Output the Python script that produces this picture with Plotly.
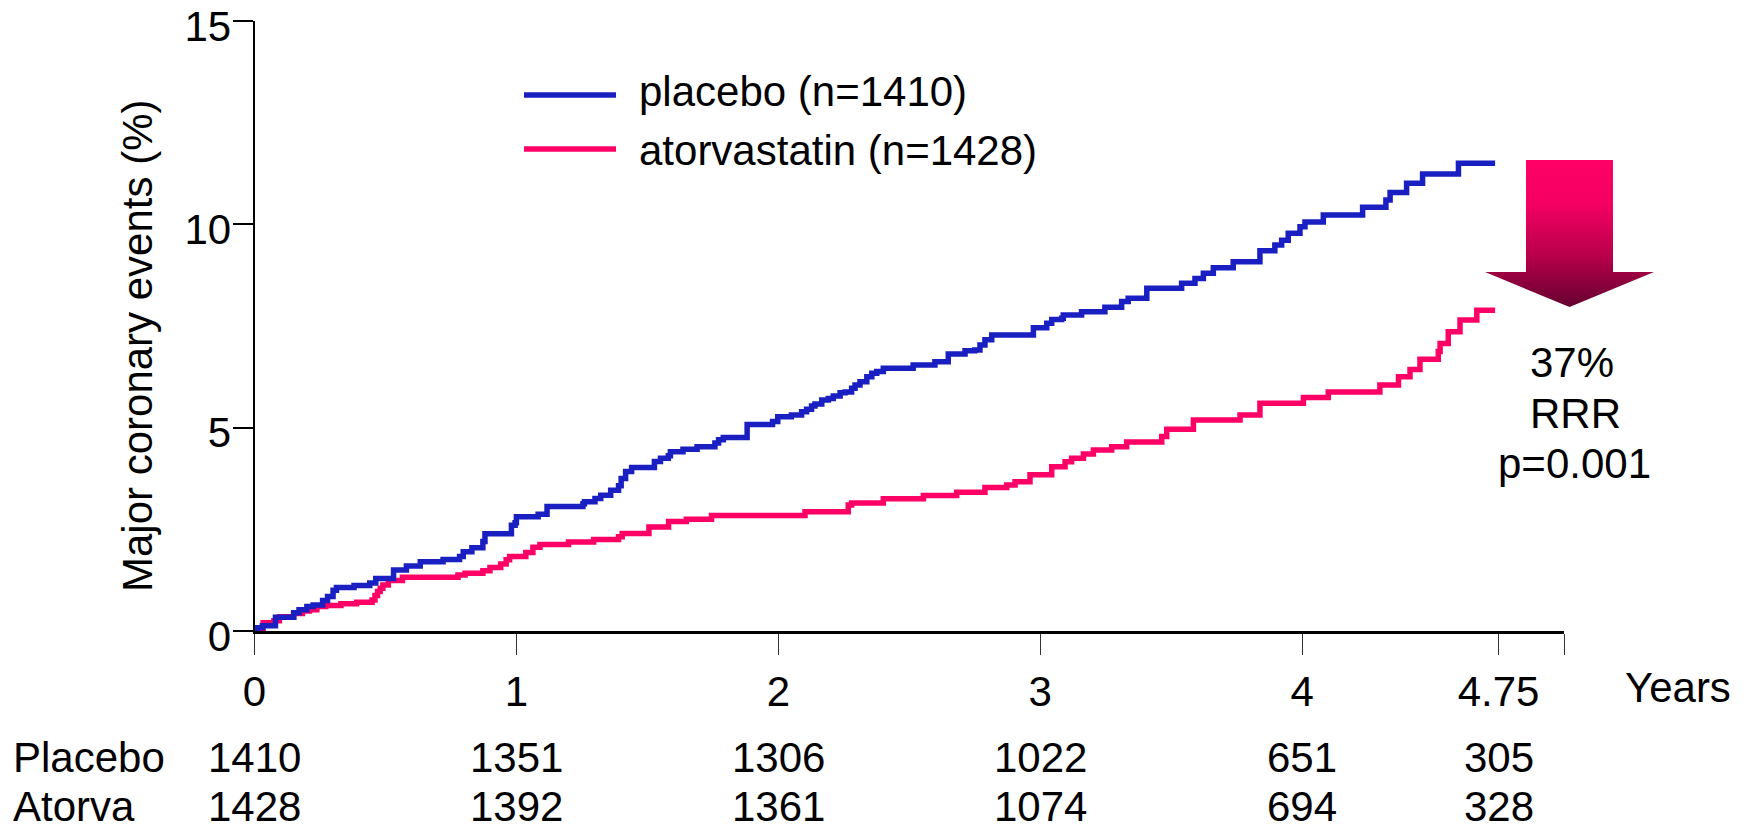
import plotly.graph_objects as go

# ---------------- data ----------------
placebo_t = [0, 0.01, 0.03, 0.08, 0.15, 0.17, 0.20, 0.224, 0.26, 0.279, 0.30, 0.313, 0.38, 0.44, 0.463,
             0.531, 0.58, 0.633, 0.72, 0.783, 0.797, 0.83, 0.872, 0.88, 0.981, 0.995, 1.0, 1.083, 1.117,
             1.254, 1.26, 1.30, 1.322, 1.36, 1.39, 1.40, 1.417, 1.44, 1.527, 1.55, 1.58, 1.588, 1.636,
             1.69, 1.758, 1.772, 1.79, 1.881, 1.978, 1.998, 2.05, 2.089, 2.108, 2.127, 2.14, 2.166, 2.191,
             2.21, 2.236, 2.255, 2.28, 2.293, 2.312, 2.338, 2.357, 2.376, 2.401, 2.515, 2.598, 2.649,
             2.713, 2.75, 2.77, 2.789, 2.815, 2.974, 3.025, 3.044, 3.082, 3.088, 3.158, 3.247, 3.311,
             3.336, 3.407, 3.540, 3.591, 3.623, 3.661, 3.737, 3.839, 3.896, 3.922, 3.947, 3.992, 4.011,
             4.081, 4.231, 4.32, 4.336, 4.399, 4.46, 4.597, 4.737]
placebo_pct = [0, 0.08, 0.13, 0.34, 0.45, 0.52, 0.60, 0.64, 0.75, 0.85, 1.00, 1.07, 1.12, 1.18, 1.29,
               1.50, 1.60, 1.70, 1.76, 1.83, 1.95, 2.05, 2.20, 2.39, 2.60, 2.66, 2.81, 2.87, 3.06,
               3.13, 3.18, 3.26, 3.34, 3.46, 3.57, 3.75, 3.92, 4.02, 4.17, 4.25, 4.31, 4.41, 4.47,
               4.53, 4.62, 4.70, 4.76, 5.08, 5.15, 5.27, 5.31, 5.39, 5.45, 5.53, 5.58, 5.68, 5.72,
               5.78, 5.86, 5.88, 5.97, 6.05, 6.13, 6.25, 6.34, 6.38, 6.46, 6.54, 6.62, 6.81,
               6.89, 6.91, 7.03, 7.16, 7.28, 7.46, 7.57, 7.66, 7.69, 7.77, 7.85, 7.96, 8.10,
               8.18, 8.43, 8.55, 8.67, 8.80, 8.93, 9.08, 9.35, 9.49, 9.61, 9.78, 9.94, 10.06,
               10.23, 10.42, 10.60, 10.78, 11.01, 11.24, 11.50, 11.50]

atorva_t = [0, 0.013, 0.033, 0.074, 0.095, 0.149, 0.183, 0.21, 0.238, 0.272, 0.33, 0.39, 0.449, 0.46,
            0.47, 0.48, 0.49, 0.511, 0.565, 0.777, 0.804, 0.872, 0.899, 0.94, 0.961, 0.974, 1.036,
            1.063, 1.09, 1.199, 1.295, 1.39, 1.404, 1.506, 1.581, 1.649, 1.745, 2.102, 2.267, 2.28,
            2.401, 2.554, 2.681, 2.789, 2.872, 2.904, 2.961, 3.044, 3.095, 3.12, 3.165, 3.203, 3.273,
            3.33, 3.464, 3.483, 3.585, 3.763, 3.839, 4.005, 4.100, 4.297, 4.368, 4.412, 4.45, 4.52,
            4.527, 4.558, 4.603, 4.667, 4.737]
atorva_pct = [0, 0.07, 0.20, 0.25, 0.35, 0.43, 0.49, 0.52, 0.60, 0.63, 0.67, 0.71, 0.76, 0.87,
              0.97, 1.05, 1.13, 1.24, 1.32, 1.38, 1.42, 1.48, 1.56, 1.65, 1.75, 1.83, 1.93,
              2.06, 2.13, 2.19, 2.25, 2.32, 2.40, 2.56, 2.69, 2.75, 2.84, 2.93, 3.10, 3.15,
              3.25, 3.33, 3.41, 3.53, 3.59, 3.67, 3.84, 4.04, 4.16, 4.25, 4.35, 4.45, 4.53,
              4.65, 4.78, 4.96, 5.19, 5.31, 5.60, 5.74, 5.88, 6.05, 6.25, 6.43, 6.68, 6.87,
              7.07, 7.36, 7.65, 7.89, 7.89]

series_names = ["placebo (n=1410)", "atorvastatin (n=1428)"]
series_colors = ["#1a1fc2", "#ff0066"]

x_tickvals = [0, 1, 2, 3, 4, 4.75, 5]
x_ticktext = ["0", "1", "2", "3", "4", "4.75", ""]
y_tickvals = [0, 5, 10, 15]

risk_times = [0, 1, 2, 3, 4, 4.75]
risk_labels = ["Placebo", "Atorva"]
risk_placebo = [1410, 1351, 1306, 1022, 651, 305]
risk_atorva = [1428, 1392, 1361, 1074, 694, 328]

rrr_text = ["37%", "RRR", "p=0.001"]

# ---------------- layout constants ----------------
W, H = 1753, 831
PL, PR, PT, PB = 254.5, 1564, 21, 631   # plot area in px
FONT = "Liberation Sans, Arial, Helvetica, sans-serif"
FS = 42


def px_x(p):
    return p / W


def px_y(p):
    return 1 - p / H


fig = go.Figure()

# curves (atorvastatin under placebo)
fig.add_trace(go.Scatter(x=atorva_t, y=atorva_pct, mode="lines",
                         line=dict(color=series_colors[1], width=5.5, shape="hv"),
                         name=series_names[1], showlegend=False, hoverinfo="skip"))
fig.add_trace(go.Scatter(x=placebo_t, y=placebo_pct, mode="lines",
                         line=dict(color=series_colors[0], width=5.5, shape="hv"),
                         name=series_names[0], showlegend=False, hoverinfo="skip"))

# gradient arrow drawn on a full-figure pixel axis pair
ax_l, ax_r, ax_top, ax_sb = 1526, 1613, 160, 272
hd_l, hd_r, tip_x, tip_y = 1485, 1654, 1569.5, 307
fig.add_trace(go.Scatter(
    x=[ax_l, ax_r, ax_r, hd_r, tip_x, hd_l, ax_l, ax_l],
    y=[ax_top, ax_top, ax_sb, ax_sb, tip_y, ax_sb, ax_sb, ax_top],
    xaxis="x2", yaxis="y2", mode="lines", line=dict(width=0), fill="toself",
    fillgradient=dict(type="vertical", start=ax_top, stop=tip_y,
                      colorscale=[[0, "#ff0066"], [0.3, "#f40063"], [0.65, "#b8004a"], [1, "#650030"]]),
    showlegend=False, hoverinfo="skip"))

fig.update_layout(
    width=W, height=H, autosize=False,
    margin=dict(l=0, r=0, t=0, b=0),
    paper_bgcolor="white", plot_bgcolor="rgba(0,0,0,0)",
    font=dict(family=FONT, size=FS, color="black"),
    showlegend=False,
    xaxis=dict(domain=[PL / W, PR / W], range=[0, 5.0], tickvals=x_tickvals, ticktext=x_ticktext,
               ticks="outside", ticklen=21, tickwidth=1.2, tickcolor="#333", showline=True, linewidth=3,
               linecolor="black", showgrid=False, zeroline=False, automargin=False,
               tickfont=dict(size=FS, family=FONT), ticklabelstandoff=1, ticklabeloverflow="allow"),
    yaxis=dict(domain=[1 - PB / H, 1 - PT / H], range=[0, 15], tickvals=y_tickvals,
               ticks="outside", ticklen=20, tickwidth=2, tickcolor="black", showline=True, linewidth=2,
               linecolor="black", showgrid=False, zeroline=False, automargin=False,
               tickfont=dict(size=FS, family=FONT), ticklabelstandoff=-7, ticklabelshift=5,
               ticklabeloverflow="allow"),
    xaxis2=dict(domain=[0, 1], range=[0, W], visible=False, anchor="y2", fixedrange=True),
    yaxis2=dict(domain=[0, 1], range=[H, 0], visible=False, anchor="x2", fixedrange=True),
)

ann = []
# y-axis title
ann.append(dict(text="Major coronary events (%)", x=px_x(137), y=px_y(346), xref="paper", yref="paper",
                textangle=-90, showarrow=False, xanchor="center", yanchor="middle", font=dict(size=FS)))
# x-axis unit
ann.append(dict(text="Years", x=px_x(1623), y=px_y(687), xref="paper", yref="paper", showarrow=False,
                xanchor="left", yanchor="middle", font=dict(size=FS)))
# legend (drawn by hand so the line samples match the original length)
leg_line_y = [95, 149]
leg_text_y = [92, 150]
for name, col, ly, ty in zip(series_names, series_colors, leg_line_y, leg_text_y):
    fig.add_shape(type="line", xref="paper", yref="paper", x0=px_x(524), x1=px_x(616),
                  y0=px_y(ly), y1=px_y(ly), line=dict(color=col, width=5.5))
    ann.append(dict(text=name, x=px_x(637), y=px_y(ty), xref="paper", yref="paper", showarrow=False,
                    xanchor="left", yanchor="middle", font=dict(size=FS)))
# number at risk
row_y = [757, 806]
for lab, ry, vals in zip(risk_labels, row_y, [risk_placebo, risk_atorva]):
    ann.append(dict(text=lab, x=px_x(11), y=px_y(ry), xref="paper", yref="paper", showarrow=False,
                    xanchor="left", yanchor="middle", font=dict(size=FS)))
    for t, v in zip(risk_times, vals):
        ann.append(dict(text=str(v), x=t, y=px_y(ry), xref="x", yref="paper", showarrow=False,
                        xanchor="center", yanchor="middle", font=dict(size=FS)))
# RRR text, one line per annotation for tight line spacing
rrr_pos = [(1572, 362), (1575, 413), (1574, 463)]
for txt, (tx, ty) in zip(rrr_text, rrr_pos):
    ann.append(dict(text=txt, x=px_x(tx), y=px_y(ty), xref="paper", yref="paper",
                    showarrow=False, xanchor="center", yanchor="middle", font=dict(size=FS)))
fig.update_layout(annotations=ann)

fig.write_html("out.html", config={"displayModeBar": False},
               post_script="document.body.style.margin='0';")
